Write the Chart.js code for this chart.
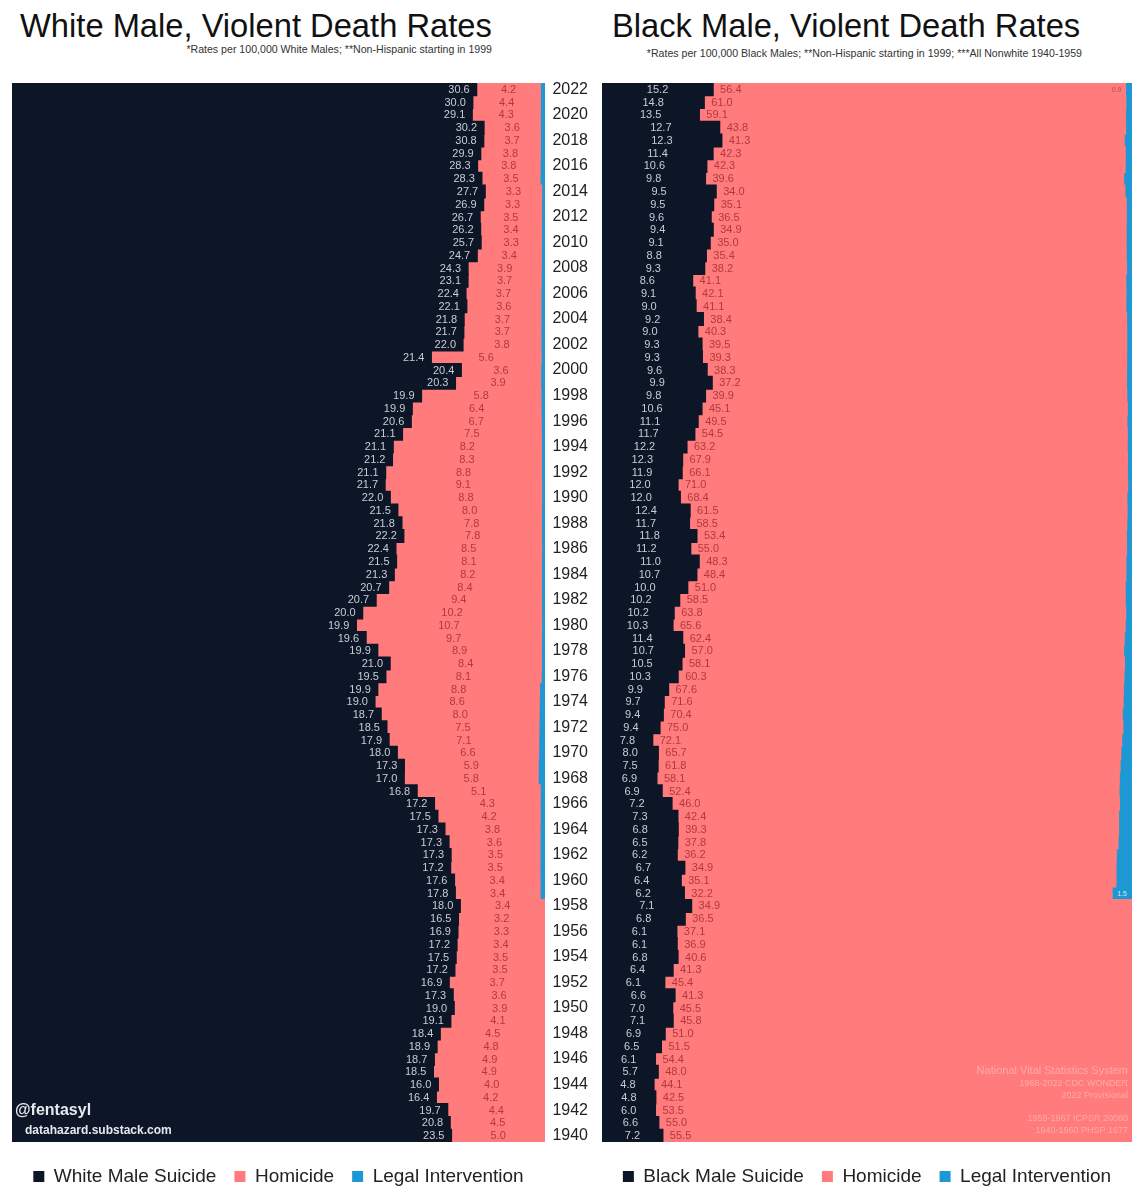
<!DOCTYPE html>
<html>
<head>
<meta charset="utf-8">
<title>Violent Death Rates</title>
<script src="https://cdn.jsdelivr.net/npm/chart.js@4.4.1/dist/chart.umd.min.js"></script>
<style>
  html, body { margin: 0; padding: 0; background: #fff; }
  body {
    width: 1144px; height: 1200px; position: relative; overflow: hidden;
    font-family: "Liberation Sans", Arial, sans-serif;
  }
  .box { position: absolute; top: 70px; height: 1130px; }
  #leftBox { left: 0; width: 545px; }
  #rightBox { left: 545px; width: 599px; }
  .title { position: absolute; top: 7px; font-size: 32.7px; line-height: 38px; color: #111; white-space: nowrap; }
  .sub { position: absolute; font-size: 10.6px; line-height: 12px; color: #333; white-space: nowrap; }
  .credit { position: absolute; color: #e6e8ee; font-weight: bold; white-space: nowrap; z-index: 2; }
  .source { position: absolute; right: 16px; text-align: right; color: #ffa9a9; z-index: 2; white-space: nowrap; }
</style>
</head>
<body>

<div class="title" style="left:20px">White Male, Violent Death Rates</div>
<div class="sub" style="right:652px; top:43px">*Rates per 100,000 White Males; **Non-Hispanic starting in 1999</div>

<div class="title" style="left:612px">Black Male, Violent Death Rates</div>
<div class="sub" style="right:62px; top:47px">*Rates per 100,000 Black Males; **Non-Hispanic starting in 1999; ***All Nonwhite 1940-1959</div>

<div class="box" id="leftBox"><canvas id="whiteChart"></canvas></div>
<div class="box" id="rightBox"><canvas id="blackChart"></canvas></div>

<div class="credit" style="left:15px; top:1101px; font-size:16px">@fentasyl</div>
<div class="credit" style="left:25px; top:1123px; font-size:12px">datahazard.substack.com</div>

<div class="source" style="top:1064px; font-size:11px">National Vital Statistics System</div>
<div class="source" style="top:1078px; font-size:9px">1968-2022 CDC WONDER</div>
<div class="source" style="top:1090px; font-size:9px">2022 Provisional</div>
<div class="source" style="top:1113px; font-size:9px">1959-1967 ICPSR 20080</div>
<div class="source" style="top:1125px; font-size:9px">1940-1960 PHSP 1677</div>

<script>
/* ---------- data (top row = 2022, bottom row = 1940) ---------- */

const years = [
  '2022', '2021', '2020', '2019', '2018', '2017', '2016', '2015', '2014', '2013',
  '2012', '2011', '2010', '2009', '2008', '2007', '2006', '2005', '2004', '2003',
  '2002', '2001', '2000', '1999', '1998', '1997', '1996', '1995', '1994', '1993',
  '1992', '1991', '1990', '1989', '1988', '1987', '1986', '1985', '1984', '1983',
  '1982', '1981', '1980', '1979', '1978', '1977', '1976', '1975', '1974', '1973',
  '1972', '1971', '1970', '1969', '1968', '1967', '1966', '1965', '1964', '1963',
  '1962', '1961', '1960', '1959', '1958', '1957', '1956', '1955', '1954', '1953',
  '1952', '1951', '1950', '1949', '1948', '1947', '1946', '1945', '1944', '1943',
  '1942', '1941', '1940'
];

const whiteSuicide = [
  30.6, 30.0, 29.1, 30.2, 30.8, 29.9, 28.3, 28.3, 27.7, 26.9,
  26.7, 26.2, 25.7, 24.7, 24.3, 23.1, 22.4, 22.1, 21.8, 21.7,
  22.0, 21.4, 20.4, 20.3, 19.9, 19.9, 20.6, 21.1, 21.1, 21.2,
  21.1, 21.7, 22.0, 21.5, 21.8, 22.2, 22.4, 21.5, 21.3, 20.7,
  20.7, 20.0, 19.9, 19.6, 19.9, 21.0, 19.5, 19.9, 19.0, 18.7,
  18.5, 17.9, 18.0, 17.3, 17.0, 16.8, 17.2, 17.5, 17.3, 17.3,
  17.3, 17.2, 17.6, 17.8, 18.0, 16.5, 16.9, 17.2, 17.5, 17.2,
  16.9, 17.3, 19.0, 19.1, 18.4, 18.9, 18.7, 18.5, 16.0, 16.4,
  19.7, 20.8, 23.5
];

const whiteHomicide = [
  4.2, 4.4, 4.3, 3.6, 3.7, 3.8, 3.8, 3.5, 3.3, 3.3,
  3.5, 3.4, 3.3, 3.4, 3.9, 3.7, 3.7, 3.6, 3.7, 3.7,
  3.8, 5.6, 3.6, 3.9, 5.8, 6.4, 6.7, 7.5, 8.2, 8.3,
  8.8, 9.1, 8.8, 8.0, 7.8, 7.8, 8.5, 8.1, 8.2, 8.4,
  9.4, 10.2, 10.7, 9.7, 8.9, 8.4, 8.1, 8.8, 8.6, 8.0,
  7.5, 7.1, 6.6, 5.9, 5.8, 5.1, 4.3, 4.2, 3.8, 3.6,
  3.5, 3.5, 3.4, 3.4, 3.4, 3.2, 3.3, 3.4, 3.5, 3.5,
  3.7, 3.6, 3.9, 4.1, 4.5, 4.8, 4.9, 4.9, 4.0, 4.2,
  4.4, 4.5, 5.0
];

// legal intervention: no series before 1959
const whiteLegal = [
  0.3, 0.3, 0.3, 0.3, 0.3, 0.3, 0.3, 0.3, 0.2, 0.2,
  0.2, 0.2, 0.2, 0.2, 0.2, 0.2, 0.2, 0.2, 0.2, 0.2,
  0.2, 0.2, 0.2, 0.2, 0.2, 0.2, 0.2, 0.2, 0.2, 0.2,
  0.2, 0.2, 0.2, 0.2, 0.2, 0.2, 0.2, 0.2, 0.2, 0.2,
  0.2, 0.2, 0.2, 0.2, 0.2, 0.2, 0.2, 0.3, 0.3, 0.3,
  0.3, 0.3, 0.3, 0.3, 0.3, 0.2, 0.2, 0.2, 0.2, 0.2,
  0.2, 0.2, 0.2, 0.2, null, null, null, null, null, null,
  null, null, null, null, null, null, null, null, null, null,
  null, null, null
];

const blackSuicide = [
  15.2, 14.8, 13.5, 12.7, 12.3, 11.4, 10.6, 9.8, 9.5, 9.5,
  9.6, 9.4, 9.1, 8.8, 9.3, 8.6, 9.1, 9.0, 9.2, 9.0,
  9.3, 9.3, 9.6, 9.9, 9.8, 10.6, 11.1, 11.7, 12.2, 12.3,
  11.9, 12.0, 12.0, 12.4, 11.7, 11.8, 11.2, 11.0, 10.7, 10.0,
  10.2, 10.2, 10.3, 11.4, 10.7, 10.5, 10.3, 9.9, 9.7, 9.4,
  9.4, 7.8, 8.0, 7.5, 6.9, 6.9, 7.2, 7.3, 6.8, 6.5,
  6.2, 6.7, 6.4, 6.2, 7.1, 6.8, 6.1, 6.1, 6.8, 6.4,
  6.1, 6.6, 7.0, 7.1, 6.9, 6.5, 6.1, 5.7, 4.8, 4.8,
  6.0, 6.6, 7.2
];

const blackHomicide = [
  56.4, 61.0, 59.1, 43.8, 41.3, 42.3, 42.3, 39.6, 34.0, 35.1,
  36.5, 34.9, 35.0, 35.4, 38.2, 41.1, 42.1, 41.1, 38.4, 40.3,
  39.5, 39.3, 38.3, 37.2, 39.9, 45.1, 49.5, 54.5, 63.2, 67.9,
  66.1, 71.0, 68.4, 61.5, 58.5, 53.4, 55.0, 48.3, 48.4, 51.0,
  58.5, 63.8, 65.6, 62.4, 57.0, 58.1, 60.3, 67.6, 71.6, 70.4,
  75.0, 72.1, 65.7, 61.8, 58.1, 52.4, 46.0, 42.4, 39.3, 37.8,
  36.2, 34.9, 35.1, 32.2, 34.9, 36.5, 37.1, 36.9, 40.6, 41.3,
  45.4, 41.3, 45.5, 45.8, 51.0, 51.5, 54.4, 48.0, 44.1, 42.5,
  53.5, 55.0, 55.5
];

const blackLegal = [
  0.9, 0.9, 0.9, 0.7, 0.8, 0.7, 0.7, 0.8, 0.6, 0.5,
  0.5, 0.5, 0.5, 0.5, 0.5, 0.6, 0.6, 0.6, 0.5, 0.5,
  0.5, 0.5, 0.5, 0.5, 0.5, 0.5, 0.6, 0.6, 0.7, 0.7,
  0.7, 0.7, 0.8, 0.7, 0.7, 0.7, 0.7, 0.7, 0.7, 0.8,
  0.9, 0.9, 1.0, 1.1, 1.1, 1.0, 1.1, 1.3, 1.4, 1.5,
  1.5, 1.6, 1.6, 1.6, 1.6, 1.5, 1.3, 1.3, 1.2, 1.2,
  1.3, 1.3, 1.3, 1.5, null, null, null, null, null, null,
  null, null, null, null, null, null, null, null, null, null,
  null, null, null
];

// only these rows carry a printed legal-intervention value
const legalLabelYears = ['2022', '1959'];

/* ---------- colours ---------- */

const NAVY = '#0c1627';
const PINK = '#ff7b7c';
const BLUE = '#1e98d4';

/* ---------- helpers ---------- */

// each row is shown as a share of that year's total (100% stacked)
function toShares(parts) {
  return parts.map(arr => arr.map((v, i) => {
    const total = parts.reduce((s, a) => s + (a[i] || 0), 0);
    return (v || 0) / total * 100;
  }));
}

const rawBySide = {
  white: [whiteSuicide, whiteHomicide, whiteLegal],
  black: [blackSuicide, blackHomicide, blackLegal]
};

// draws the rate numbers on top of the stacked segments
const valueLabels = {
  id: 'valueLabels',
  afterDatasetsDraw(chart, args, opts) {
    const side = opts.side;
    const raw = rawBySide[side];
    const ctx = chart.ctx;
    ctx.save();
    ctx.textBaseline = 'middle';

    const suicideMeta = chart.getDatasetMeta(0);
    const homicideMeta = chart.getDatasetMeta(1);
    const legalMeta = chart.getDatasetMeta(2);

    years.forEach((yr, i) => {
      const s = suicideMeta.data[i];
      const h = homicideMeta.data[i];
      const l = legalMeta.data[i];

      ctx.font = '11px "Liberation Sans", Arial, sans-serif';

      // suicide
      ctx.fillStyle = '#c8ccd6';
      if (side === 'white') {
        ctx.textAlign = 'right';
        ctx.fillText(raw[0][i].toFixed(1), s.x - 7, s.y + 0.5);
      } else {
        ctx.textAlign = 'center';
        ctx.fillText(raw[0][i].toFixed(1), (s.base + s.x) / 2, s.y + 0.5);
      }

      // homicide
      ctx.fillStyle = '#b03a40';
      if (side === 'white') {
        ctx.textAlign = 'center';
        ctx.fillText(raw[1][i].toFixed(1), (h.base + h.x) / 2, h.y + 0.5);
      } else {
        ctx.textAlign = 'left';
        ctx.fillText(raw[1][i].toFixed(1), h.base + 7, h.y + 0.5);
      }

      // legal intervention (first and last year only)
      if (legalLabelYears.includes(yr) && raw[2][i]) {
        ctx.font = '7px "Liberation Sans", Arial, sans-serif';
        const txt = raw[2][i].toFixed(1);
        if (side === 'black' && yr === '1959') {
          ctx.fillStyle = '#d4ecf8';
          ctx.textAlign = 'center';
          ctx.fillText(txt, (l.base + l.x) / 2, l.y + 1);
        } else {
          ctx.fillStyle = side === 'white' ? '#e58a8a' : '#b54a4a';
          ctx.textAlign = 'right';
          ctx.fillText(txt, l.base - 4, l.y + 0.5);
        }
      }
    });

    ctx.restore();
  }
};

function buildChart(canvasId, side, names, showYears) {
  const shares = toShares(rawBySide[side]);
  const colours = [NAVY, PINK, BLUE];

  return new Chart(document.getElementById(canvasId), {
    type: 'bar',
    data: {
      labels: years,
      datasets: names.map((name, k) => ({
        label: name,
        data: shares[k],
        backgroundColor: colours[k],
        borderWidth: 0,
        inflateAmount: 0.6,
        barPercentage: 1,
        categoryPercentage: 1,
        stack: 'all'
      }))
    },
    options: {
      indexAxis: 'y',
      responsive: true,
      maintainAspectRatio: false,
      animation: false,
      layout: {
        padding: { top: 13, bottom: 4, left: side === 'white' ? 12 : 0, right: side === 'white' ? 0 : 12 }
      },
      scales: {
        x: { stacked: true, min: 0, max: 100, display: false },
        y: {
          stacked: true,
          display: showYears,
          position: 'left',
          grid: { display: false, drawTicks: false },
          border: { display: false },
          ticks: {
            autoSkip: false,
            padding: 14,
            crossAlign: 'center',
            color: '#222',
            font: { family: '"Liberation Sans", Arial, sans-serif', size: 16 },
            callback: (v, i) => (i % 2 === 0 ? years[i] : '')
          },
          afterFit(scale) {
            if (!showYears) return;
            scale.width = 57;
            scale.paddingTop = 0;
            scale.paddingBottom = 0;
          }
        }
      },
      plugins: {
        legend: {
          position: 'bottom',
          fullSize: false,
          // empty title only adds a little space between plot and legend
          title: { display: true, text: '', padding: { top: 6, bottom: 0 }, font: { size: 1, lineHeight: 1 } },
          labels: {
            boxWidth: 11,
            boxHeight: 11,
            padding: 18,
            color: '#222',
            font: { family: '"Liberation Sans", Arial, sans-serif', size: 19 }
          }
        },
        tooltip: { enabled: false },
        valueLabels: { side: side }
      }
    },
    plugins: [valueLabels]
  });
}

buildChart('whiteChart', 'white', ['White Male Suicide', 'Homicide', 'Legal Intervention'], false);
buildChart('blackChart', 'black', ['Black Male Suicide', 'Homicide', 'Legal Intervention'], true);
</script>
</body>
</html>
